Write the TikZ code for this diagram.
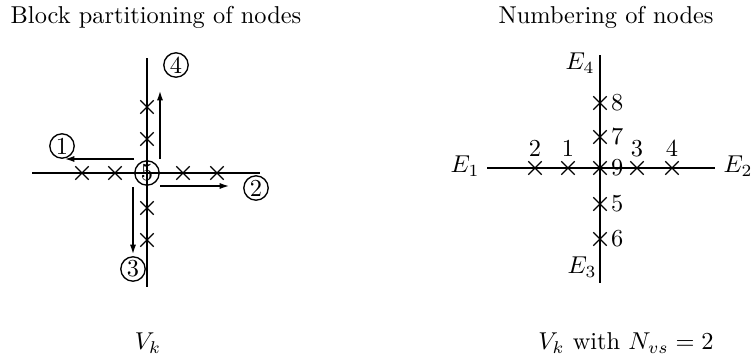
\documentclass[tikz,border=0pt]{standalone}
\usepackage{amsmath,amssymb}
\usetikzlibrary{arrows.meta,shapes.misc}

\begin{document}
\begin{tikzpicture}[x=0.41pt,y=-0.41pt,
    vis/.style={line width=0.6pt},
    krest/.style={cross out,draw,minimum size=5pt,inner sep=0pt,line width=0.5pt},
    blok/.style={circle,draw,inner sep=0pt,minimum size=10pt,line width=0.55pt,fill=white},
    strilka/.style={-{Latex[length=3.8pt,width=2.5pt]},line width=0.55pt}]
    \useasboundingbox (0,0) rectangle (753,361);

    % titles
    \node (t1) at (156,17) {Block partitioning of nodes};
    \node (t2) at (606,17) {Numbering of nodes};

    % left: blocks
    \coordinate (O) at (147,173);
    \coordinate (L) at (32,173);
    \coordinate (R) at (260,173);
    \coordinate (T) at (147,58);
    \coordinate (B) at (147,287);

    \draw[vis] (L) -- (R);
    \draw[vis] (T) -- (B);

    \foreach \x/\n in {82/l2,115/l1,183/r1,217/r2}
        \node[krest] (\n) at (\x,173) {};
    \foreach \y/\n in {107/u2,139/u1,208/d1,240/d2}
        \node[krest] (\n) at (147,\y) {};

    \node[blok,fill=none] (b5) at (O) {5};

    \coordinate (s1) at (134,159);
    \coordinate (e1) at (65,159);
    \coordinate (s4) at (160,159);
    \coordinate (e4) at (160,91);
    \coordinate (s2) at (160,186);
    \coordinate (e2) at (229,186);
    \coordinate (s3) at (133,187);
    \coordinate (e3) at (133,254);

    \draw[strilka] (s1) -- (e1);
    \draw[strilka] (s4) -- (e4);
    \draw[strilka] (s2) -- (e2);
    \draw[strilka] (s3) -- (e3);

    \node[blok] (b1) at (62,146) {1};
    \node[blok] (b4) at (176,65) {4};
    \node[blok] (b2) at (256,188) {2};
    \node[blok] (b3) at (133,269) {3};

    \node (vk) at (148,343) {$V_k$};

    % right: numbering
    \coordinate (P) at (600,168);
    \coordinate (P1) at (487,168);
    \coordinate (P2) at (715,168);
    \coordinate (P4) at (600,55);
    \coordinate (P3) at (600,283);

    \draw[vis] (P1) -- (P2);
    \draw[vis] (P4) -- (P3);

    \foreach \x/\n in {535/2,568/1,637/3,672/4}{
        \node[krest] (h\n) at (\x,168) {};
        \node[above=1pt] (nh\n) at (h\n) {\n};
    }
    \foreach \y/\n in {103/8,137/7,168/9,204/5,239/6}{
        \node[krest] (v\n) at (600,\y) {};
        \node[right=1pt] (nv\n) at (v\n) {\n};
    }

    \node (E1) at (465,166) {$E_1$};
    \node (E2) at (738,166) {$E_2$};
    \node (E4) at (580,63) {$E_4$};
    \node (E3) at (582,267) {$E_3$};

    \node (vn) at (626,343) {$V_k$ with $N_{vs}=2$};
\end{tikzpicture}
\end{document}
